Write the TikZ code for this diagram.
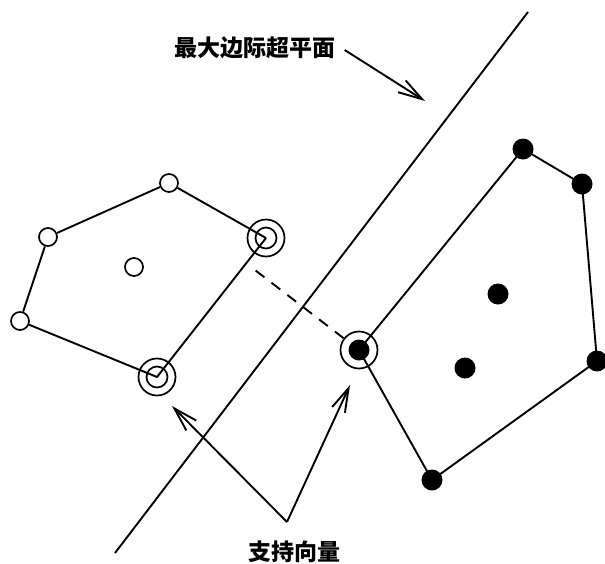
\documentclass[tikz,border=0pt]{standalone}
\usepackage{fontspec}
\newfontfamily\cjk{Noto Sans CJK SC}
\usetikzlibrary{arrows.meta}
\tikzset{
  line/.style={line width=1.9pt},
  opendot/.style={circle,draw,line width=1.7pt,inner sep=0pt,minimum size=18pt},
  fulldot/.style={circle,fill,inner sep=0pt,minimum size=21pt},
  svring/.style={circle,draw,line width=1.7pt,inner sep=0pt,minimum size=37pt},
  svinner/.style={circle,draw,line width=1.7pt,inner sep=0pt,minimum size=21pt},
  lab/.style={font=\cjk\bfseries\fontsize{23}{23}\selectfont,inner sep=0pt},
  barb/.style={-{Straight Barb[length=24pt,width=14pt,line width=1.9pt]}, line width=1.9pt}
}
\begin{document}
\begin{tikzpicture}[x=1pt,y=-1pt]
\useasboundingbox (0,0) rectangle (605,563);
% hyperplane
\coordinate (hpA) at (115,553);
\coordinate (hpB) at (528,12);
\draw[line] (hpA) -- (hpB);
% left class
\node[opendot] (l1) at (169,183) {};
\node[opendot] (l2) at (48,237) {};
\node[opendot] (l3) at (20,321) {};
\node[opendot] (l4) at (134,267) {};
\node[svring] (sa) at (266,238) {};
\node[svinner] (sai) at (266,238) {};
\node[svring] (sb) at (157,377) {};
\node[svinner] (sbi) at (157,377) {};
\draw[line] (sa.center) -- (l1) -- (l2) -- (l3) -- (sb.center) -- (sa.center);
% right class
\node[fulldot] (r1) at (523,149) {};
\node[fulldot] (r2) at (582,184) {};
\node[fulldot] (r3) at (597,361) {};
\node[fulldot] (r4) at (432,480) {};
\node[fulldot] (r5) at (498,294) {};
\node[fulldot] (r6) at (465,368) {};
\node[svring] (sc) at (359,350) {};
\node[fulldot] (sci) at (359,350) {};
\draw[line] (sc.center) -- (r1.center) -- (r2.center) -- (r3.center) -- (r4.center) -- (sc.center);
% margin (perpendicular to hyperplane)
\coordinate (mEnd) at (251,267);
\draw[line,dash pattern=on 11pt off 9pt] (sc) -- (mEnd);
% labels
\node[lab] (t1) at (255,48) {最大边际超平面};
\coordinate (t1tip) at (425,101);
\draw[barb] ([xshift=9pt,yshift=-2pt]t1.east) -- (t1tip);
\node[lab] (t2) at (294,552) {支持向量};
\coordinate (apex) at (287,522);
\coordinate (tipL) at (172,406);
\coordinate (tipR) at (350,385);
\draw[barb] (apex) -- (tipL);
\draw[barb] (apex) -- (tipR);
\end{tikzpicture}
\end{document}
